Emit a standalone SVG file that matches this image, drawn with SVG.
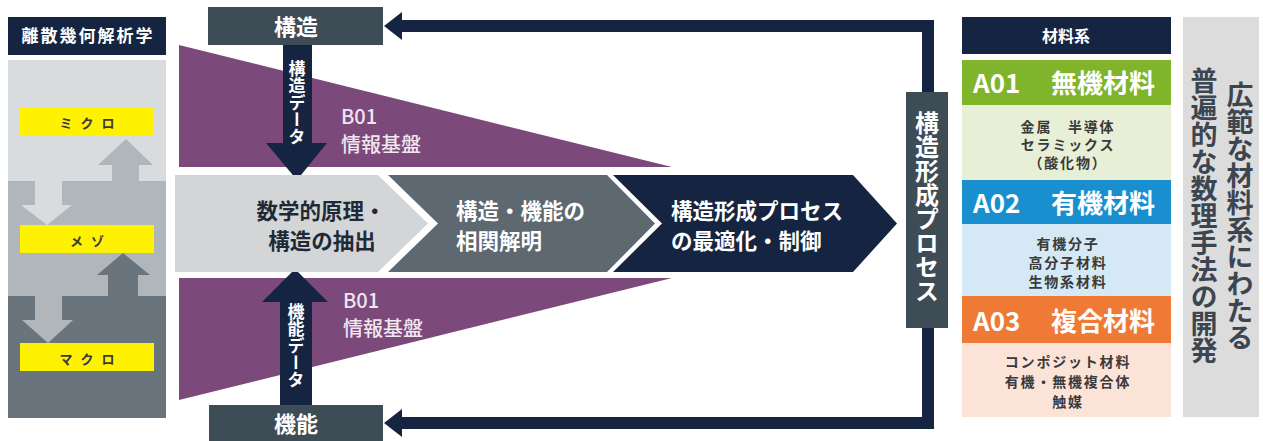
<svg xmlns="http://www.w3.org/2000/svg" width="1263" height="441" viewBox="0 0 1263 441">
<style>
text{font-family:"Noto Sans CJK JP","Noto Sans",sans-serif;font-weight:700}
.w{fill:#ffffff}
.d{fill:#1f2a36}
.b{fill:#3a3a3a;font-size:14px;text-anchor:middle;letter-spacing:1.8px}
.v{writing-mode:vertical-rl;text-anchor:middle}
.lbl{fill:#3a3a3a;font-size:13px;text-anchor:middle;letter-spacing:8px}
.hd{fill:#ffffff;font-size:26px}
.ch{font-size:21.5px}
.pur{fill:#f1e6f0;font-size:20px;font-weight:500}
.navy{fill:#152541}
.slate{fill:#3e4c56}
</style>
<defs>
<marker id="ah" markerUnits="userSpaceOnUse" markerWidth="20" markerHeight="32" refX="1" refY="16" orient="auto">
<path d="M0,2 L18,16 L0,30 z" fill="#152541"/>
</marker>
</defs>
<rect width="1263" height="441" fill="#ffffff"/>

<g id="scale-panel">
<rect x="8" y="17" width="158" height="38" class="navy"/>
<text x="88" y="42" class="w" font-size="17" text-anchor="middle" letter-spacing="2">離散幾何解析学</text>
<rect x="8" y="60" width="158" height="121" fill="#d9dcdf"/>
<rect x="8" y="181" width="158" height="115" fill="#b1b6bb"/>
<rect x="8" y="296" width="158" height="122" fill="#6a747c"/>
<polygon points="112,181 112,165 98,165 126,139 153,165 139,165 139,181" fill="#b1b6bb"/>
<polygon points="35,181 62,181 62,205 72,205 47,225 21,205 35,205" fill="#d9dcdf"/>
<polygon points="108,296 108,275 97,275 123,253 150,275 138,275 138,296" fill="#6a747c"/>
<polygon points="35,296 62,296 62,320 73,320 48,343 22,320 35,320" fill="#b1b6bb"/>
</g>

<g id="micro"><rect x="20" y="107" width="134" height="28" fill="#fff200"/><text x="91" y="128" class="lbl">ミクロ</text></g>
<g id="meso"><rect x="20" y="225" width="134" height="28" fill="#fff200"/><text x="91" y="246" class="lbl">メゾ</text></g>
<g id="macro"><rect x="20" y="343" width="134" height="28" fill="#fff200"/><text x="91" y="364" class="lbl">マクロ</text></g>

<g id="b01-top">
<polygon points="179,45 672,167 179,167" fill="#7b4a7a"/>
<text x="341" y="124" class="pur">B01</text>
<text x="341" y="152" class="pur">情報基盤</text>
</g>
<g id="b01-bottom">
<polygon points="179,278 672,278 179,400" fill="#7b4a7a"/>
<text x="343" y="308" class="pur">B01</text>
<text x="343" y="336" class="pur">情報基盤</text>
</g>

<g id="structure">
<rect x="208" y="7" width="175" height="38" class="slate"/>
<text x="296" y="35" class="w" font-size="22" text-anchor="middle">構造</text>
</g>
<g id="function">
<rect x="209" y="405" width="174" height="36" class="slate"/>
<text x="296" y="432" class="w" font-size="22" text-anchor="middle">機能</text>
</g>

<g id="structure-data">
<polygon points="283,45 312,45 312,143 327,143 297,180 266,143 283,143" class="navy"/>
<text x="297" y="103" class="w v" font-size="17">構造データ</text>
</g>
<g id="function-data">
<polygon points="280,405 312,405 312,302 328,302 295,269 262,302 280,302" class="navy"/>
<text x="296" y="346" class="w v" font-size="17">機能データ</text>
</g>

<g id="step1">
<polygon points="175,175 378,175 428,223.5 378,272 175,272" fill="#d3d5d7"/>
<text x="321" y="219" class="d ch" text-anchor="middle">数学的原理・</text>
<text x="322" y="249" class="d ch" text-anchor="middle">構造の抽出</text>
</g>
<g id="step2">
<polygon points="388,175 607,175 655,223.5 607,272 388,272 438,223.5" fill="#5d6870"/>
<text x="456" y="219" class="w ch">構造・機能の</text>
<text x="456" y="249" class="w ch">相関解明</text>
</g>
<g id="step3">
<polygon points="613,175 853,175 897,223.5 853,272 613,272 662,223.5" class="navy"/>
<text x="671" y="219" class="w ch">構造形成プロセス</text>
<text x="671" y="249" class="w ch">の最適化・制御</text>
</g>

<g id="connectors" fill="none" stroke="#152541" stroke-width="12" stroke-linejoin="miter">
<path d="M928,110 V26 H401" marker-end="url(#ah)"/>
<path d="M928,310 V423 H401" marker-end="url(#ah)"/>
</g>

<g id="process">
<rect x="906" y="92" width="42" height="236" class="slate"/>
<text x="927" y="207" class="w v" font-size="24">構造形成プロセス</text>
</g>

<g id="materials-header">
<rect x="962" y="17" width="209" height="37" class="navy"/>
<text x="1066" y="42" class="w" font-size="16" text-anchor="middle">材料系</text>
</g>
<g id="a01">
<rect x="962" y="60" width="209" height="45" fill="#80b42b"/>
<text x="973" y="93" class="hd">A01</text>
<text x="1051" y="93" class="hd">無機材料</text>
<rect x="962" y="105" width="209" height="75" fill="#e7efd6"/>
<text x="1068" y="132" class="b">金属　半導体</text>
<text x="1068" y="150" class="b">セラミックス</text>
<text x="1068" y="168" class="b">（酸化物）</text>
</g>
<g id="a02">
<rect x="962" y="180" width="209" height="44" fill="#1a8fcf"/>
<text x="973" y="213" class="hd">A02</text>
<text x="1051" y="213" class="hd">有機材料</text>
<rect x="962" y="224" width="209" height="72" fill="#d4e9f5"/>
<text x="1068" y="249" class="b">有機分子</text>
<text x="1068" y="268" class="b">高分子材料</text>
<text x="1068" y="287" class="b">生物系材料</text>
</g>
<g id="a03">
<rect x="962" y="296" width="209" height="47" fill="#ee7a35"/>
<text x="973" y="331" class="hd">A03</text>
<text x="1051" y="331" class="hd">複合材料</text>
<rect x="962" y="343" width="209" height="74" fill="#fbe3d8"/>
<text x="1068" y="367" class="b">コンポジット材料</text>
<text x="1068" y="387" class="b">有機・無機複合体</text>
<text x="1068" y="407" class="b">触媒</text>
</g>

<g id="goal">
<rect x="1183" y="17" width="76" height="400" fill="#dcdcdc"/>
<text x="1240" y="216" class="v" font-size="27" font-weight="500" fill="#3c4650">広範な材料系にわたる</text>
<text x="1204" y="216" class="v" font-size="27" font-weight="500" fill="#3c4650">普遍的な数理手法の開発</text>
</g>
</svg>
